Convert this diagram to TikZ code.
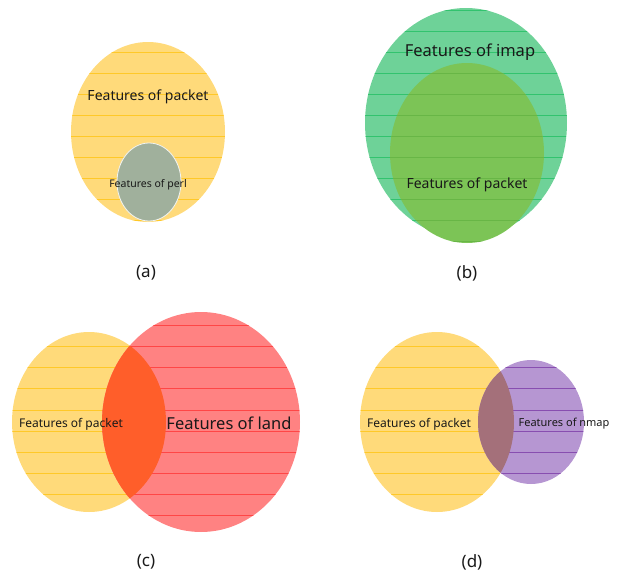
\documentclass[tikz,border=0pt]{standalone}
\usepackage{fontspec}
\setmainfont{Noto Sans}
\definecolor{pktfill}{RGB}{255,218,122}
\definecolor{pktline}{RGB}{255,200,40}
\definecolor{perlfill}{RGB}{160,176,156}
\definecolor{imapfill}{RGB}{110,210,152}
\definecolor{imapline}{RGB}{50,195,110}
\definecolor{innerfill}{RGB}{124,196,86}
\definecolor{innerline}{RGB}{104,182,70}
\definecolor{landfill}{RGB}{255,130,130}
\definecolor{landline}{RGB}{255,70,70}
\definecolor{landmix}{RGB}{255,94,42}
\definecolor{nmapfill}{RGB}{182,150,210}
\definecolor{nmapline}{RGB}{136,78,176}
\definecolor{nmapmix}{RGB}{164,112,122}
\definecolor{txt}{RGB}{25,25,25}

% filled oval with thin horizontal rules on a shared 21.05pt grid
% #1 cx, #2 cy, #3 rx, #4 ry, #5 colour prefix
\newcommand\stripedoval[5]{%
  \fill[#5fill] (#1,#2) ellipse [x radius=#3pt, y radius=#4pt];
  \begin{scope}
    \clip (#1,#2) ellipse [x radius=#3pt, y radius=#4pt];
    \foreach \k in {0,...,26}
      \draw[#5line, line width=0.6pt] ({#1-#3}, {-11.2+21.05*\k}) -- ({#1+#3}, {-11.2+21.05*\k});
  \end{scope}}

\tikzset{
  lbl/.style={text=txt, inner sep=0pt},
  tag/.style={text=txt, inner sep=0pt, font=\fontsize{17}{17}\selectfont},
}

\begin{document}
\begin{tikzpicture}[x=1pt, y=-1pt]
\useasboundingbox (0,0) rectangle (619,573);

% (a) perl inside packet
\stripedoval{148}{132}{77}{90}{pkt}
\fill[perlfill, draw=white!85!perlfill, line width=0.8pt] (149,182) ellipse [x radius=32pt, y radius=39pt];
\node[lbl, font=\fontsize{14}{14}\selectfont] (pa) at (148,97) {Features of packet};
\node[lbl, font=\fontsize{10.5}{10.5}\selectfont] (perl) at (148,185) {Features of perl};
\node[tag] (ta) at (146,273) {(a)};

% (b) packet inside imap
\stripedoval{466}{123}{101}{115}{imap}
\stripedoval{467}{153}{77}{90}{inner}
\node[lbl, font=\fontsize{16.5}{16.5}\selectfont] (imap) at (470,52) {Features of imap};
\node[lbl, font=\fontsize{14}{14}\selectfont] (pb) at (467,185) {Features of packet};
\node[tag] (tb) at (467,273) {(b)};

% (c) packet overlapping land
\stripedoval{89}{422}{77}{90}{pkt}
\stripedoval{201}{422}{99}{110}{land}
\begin{scope}
  \clip (89,422) ellipse [x radius=77pt, y radius=90pt];
  \fill[landmix] (201,422) ellipse [x radius=99pt, y radius=110pt];
\end{scope}
\node[lbl, font=\fontsize{12}{12}\selectfont] (pc) at (71,424) {Features of packet};
\node[lbl, font=\fontsize{16.5}{16.5}\selectfont] (land) at (229,423) {Features of land};
\node[tag] (tc) at (146,562) {(c)};

% (d) packet overlapping nmap
\stripedoval{437}{422}{77}{90}{pkt}
\stripedoval{531}{422}{53}{62}{nmap}
\begin{scope}
  \clip (437,422) ellipse [x radius=77pt, y radius=90pt];
  \fill[nmapmix] (531,422) ellipse [x radius=53pt, y radius=62pt];
\end{scope}
\node[lbl, font=\fontsize{12}{12}\selectfont] (pd) at (419,424) {Features of packet};
\node[lbl, font=\fontsize{11}{11}\selectfont] (nmap) at (564,424) {Features of nmap};
\node[tag] (td) at (472,562) {(d)};
\end{tikzpicture}
\end{document}
